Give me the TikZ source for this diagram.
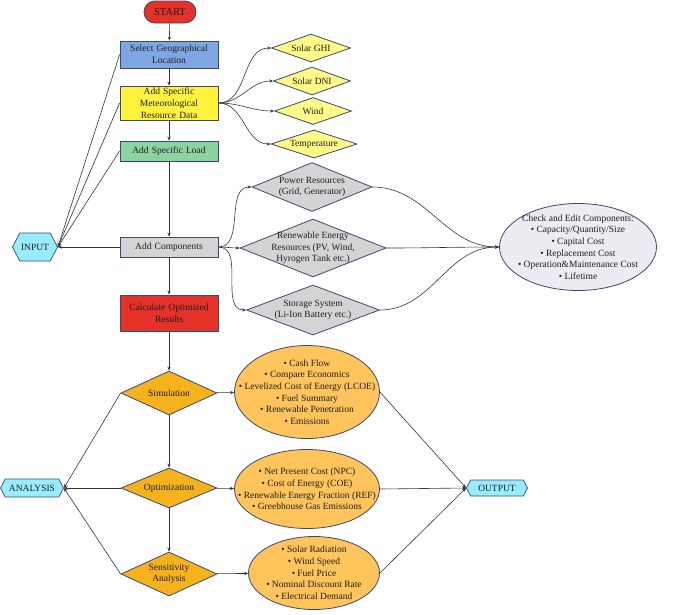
\documentclass[tikz,border=0pt]{standalone}
\usepackage{fontspec}
\setmainfont{Liberation Serif}
\usetikzlibrary{shapes.geometric,shapes.symbols,arrows.meta}

\definecolor{edge}{RGB}{62,72,110}
\definecolor{ink}{RGB}{30,30,30}
\definecolor{startred}{RGB}{228,50,40}
\definecolor{geoblue}{RGB}{126,166,226}
\definecolor{metyellow}{RGB}{255,242,60}
\definecolor{solaryellow}{RGB}{255,250,135}
\definecolor{loadgreen}{RGB}{140,211,162}
\definecolor{compgrey}{RGB}{212,212,212}
\definecolor{chkgrey}{RGB}{236,236,242}
\definecolor{diaorange}{RGB}{245,178,28}
\definecolor{elorange}{RGB}{255,196,92}
\definecolor{hexcyan}{RGB}{153,236,255}

\begin{document}
\begin{tikzpicture}[x=1pt,y=-1pt, font=\fontsize{9.5}{11.7}\selectfont, text=ink,
  >={Stealth[length=4pt,width=3.2pt]},
  link/.style={draw=ink!90, line width=0.6pt, ->},
  box/.style={draw=edge, line width=0.8pt, rectangle, minimum width=98pt,
    text width=96pt, align=center, inner sep=1pt},
  dia/.style={draw=edge, line width=0.8pt, diamond, inner sep=0pt},
  ell/.style={draw=edge, line width=0.8pt, ellipse, inner sep=0pt},
  hex/.style={draw=edge, line width=0.7pt, signal, signal to=east and west,
    signal pointer angle=125, fill=hexcyan, inner sep=1pt},
  lbl/.style={label={[align=center, text=ink]center:{#1}}}
]
  % page frame
  \useasboundingbox (0,0) rectangle (685,614);

  % main column
  \node[draw=edge, line width=0.8pt, fill=startred, rounded corners=11pt,
    minimum width=52pt, minimum height=22pt, font=\fontsize{10.5}{12}\selectfont] (start) at (170,12) {START};
  \node[box, fill=geoblue, minimum height=27pt] (geo) at (169,54.5) {Select Geographical\\Location};
  \node[box, fill=metyellow, minimum height=34pt] (met) at (169,103) {Add Specific\\Meteorological\\Resource Data};
  \node[box, fill=loadgreen, minimum height=20pt] (load) at (169,151) {Add Specific Load};
  \node[box, fill=compgrey, minimum height=20pt] (comp) at (169,247) {Add Components};
  \node[box, fill=startred, minimum height=36pt] (calc) at (169,313) {Calculate Optimized\\Results};

  \node[dia, fill=diaorange, minimum width=96pt, minimum height=44pt, lbl=Simulation] (sim) at (169,393) {};
  \node[dia, fill=diaorange, minimum width=96pt, minimum height=40pt, lbl=Optimization] (opt) at (169,488) {};
  \node[dia, fill=diaorange, minimum width=96pt, minimum height=44pt, lbl={Sensitivity\\Analysis}] (sens) at (169,574) {};

  % resource data
  \node[dia, fill=solaryellow, minimum width=79pt, minimum height=28pt, lbl=Solar GHI] (ghi) at (311,48) {};
  \node[dia, fill=solaryellow, minimum width=77pt, minimum height=28pt, lbl=Solar DNI] (dni) at (312,81) {};
  \node[dia, fill=solaryellow, minimum width=77pt, minimum height=27pt, lbl=Wind] (wind) at (313,111) {};
  \node[dia, fill=solaryellow, minimum width=86pt, minimum height=28pt, lbl=Temperature] (temp) at (314,144) {};

  % components
  \node[dia, fill=compgrey, minimum width=120pt, minimum height=49pt,
    lbl={Power Resources\\(Grid, Generator)}] (pow) at (312,187) {};
  \node[dia, fill=compgrey, minimum width=146pt, minimum height=58pt,
    lbl={Renewable Energy\\Resources (PV, Wind,\\Hyrogen Tank etc.)}] (ren) at (313,248) {};
  \node[dia, fill=compgrey, minimum width=133pt, minimum height=50pt,
    lbl={Storage System\\(Li-Ion Battery etc.)}] (sto) at (313,310) {};
  \node[ell, fill=chkgrey, minimum width=157pt, minimum height=87pt,
    lbl={Check and Edit Components:\\\textbullet\ Capacity/Quantity/Size\\\textbullet\ Capital Cost\\\textbullet\ Replacement Cost\\\textbullet\ Operation\&Maintenance Cost\\\textbullet\ Lifetime}] (chk) at (578,247) {};

  % results
  \node[ell, fill=elorange, minimum width=145pt, minimum height=93pt,
    lbl={\textbullet\ Cash Flow\\\textbullet\ Compare Economics\\\textbullet\ Levelized Cost of Energy (LCOE)\\\textbullet\ Fuel Summary\\\textbullet\ Renewable Penetration\\\textbullet\ Emissions}] (simres) at (307,392) {};
  \node[ell, fill=elorange, minimum width=145pt, minimum height=79pt,
    lbl={\textbullet\ Net Present Cost (NPC)\\\textbullet\ Cost of Energy (COE)\\\textbullet\ Renewable Energy Fraction (REF)\\\textbullet\ Greebhouse Gas Emissions}] (optres) at (307,489) {};
  \node[ell, fill=elorange, minimum width=131pt, minimum height=73pt,
    lbl={\textbullet\ Solar Radiation\\\textbullet\ Wind Speed\\\textbullet\ Fuel Price\\\textbullet\ Nominal Discount Rate\\\textbullet\ Electrical Demand}] (sensres) at (314,573) {};

  % stage labels
  \node[hex, minimum width=45pt, minimum height=28pt] (input) at (35,247) {INPUT};
  \node[hex, minimum width=63pt, minimum height=18pt] (analysis) at (32,488) {ANALYSIS};
  \node[hex, minimum width=61pt, minimum height=16pt] (output) at (497,488) {OUTPUT};

  % main flow
  \draw[link] (start) -- (geo);
  \draw[link] (geo) -- (met);
  \draw[link] (met) -- (load);
  \draw[link] (load) -- (comp);
  \draw[link] (comp) -- (calc);
  \draw[link] (calc) -- (sim);
  \draw[link] (sim) -- (opt);
  \draw[link] (opt) -- (sens);

  % into INPUT
  \foreach \n in {geo,met,load,comp}
    \draw[link] (\n.west) -- (input.east);

  % resource data
  \foreach \n in {ghi,dni,wind,temp}
    \draw[link] (met.east) to[out=0,in=180] (\n.west);

  % components
  \foreach \n in {pow,ren,sto} {
    \draw[link] (comp.east) to[out=0,in=180] (\n.west);
    \draw[link] (\n.east) to[out=0,in=180] (chk.west);
  }

  % analysis and output
  \draw[link] (sim) -- (simres);
  \draw[link] (opt) -- (optres);
  \draw[link] (sens) -- (sensres);
  \foreach \n in {sim,opt,sens}
    \draw[link] (\n.west) -- (analysis.east);
  \foreach \n in {simres,optres,sensres}
    \draw[link] (\n.east) -- (output.west);
\end{tikzpicture}
\end{document}
